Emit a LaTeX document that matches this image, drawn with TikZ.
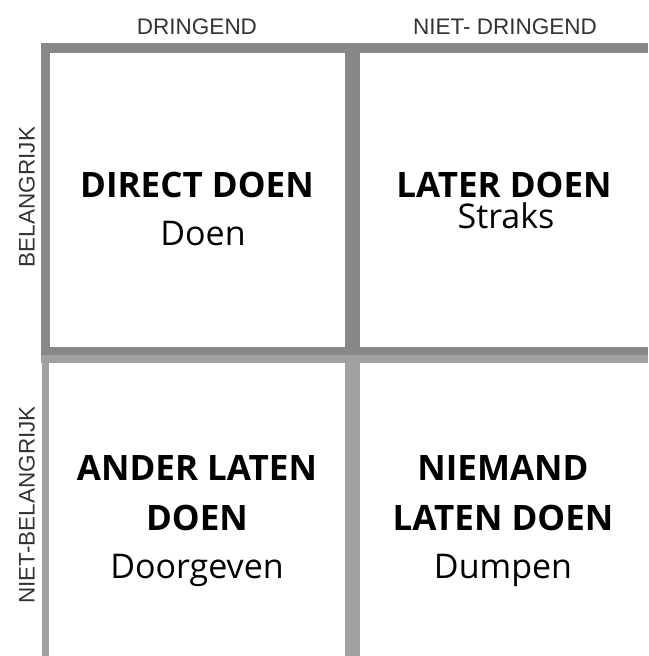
\documentclass[tikz,border=0pt]{standalone}
\usepackage{fontspec}
\setmainfont{Open Sans}
\newfontfamily\axisfont{Liberation Sans}
\definecolor{bardark}{HTML}{888888}
\definecolor{barlight}{HTML}{A0A0A0}
\definecolor{axisgray}{HTML}{333333}
\begin{document}
\begin{tikzpicture}[x=1pt,y=-1pt,
  axislabel/.style={font=\axisfont\fontsize{22.5}{26}\selectfont, text=axisgray, inner sep=0pt},
  titletext/.style={font=\bfseries\fontsize{35}{42}\selectfont, anchor=base, inner sep=0pt, text depth=0pt},
  subtext/.style={font=\fontsize{34}{40}\selectfont, anchor=base, inner sep=0pt}]
\useasboundingbox (0,0) rectangle (648,656);
\fill[white] (0,0) rectangle (648,656);
% upper (dark) frame
\fill[bardark] (41,43) rectangle (648,53);
\fill[bardark] (41,43) rectangle (50,355);
\fill[bardark] (345,43) rectangle (360,355);
\fill[bardark] (41,347) rectangle (648,355);
% lower (light) frame
\fill[barlight] (41,355) rectangle (648,363);
\fill[barlight] (42,355) rectangle (49,656);
\fill[barlight] (345,355) rectangle (360,656);
% axis labels
\node[axislabel] (dr) at (197,27) {DRINGEND};
\node[axislabel] (ndr) at (505,27) {NIET- DRINGEND};
\node[axislabel, rotate=90] (bel) at (27,197) {BELANGRIJK};
\node[axislabel, rotate=90] (nbel) at (27,505) {NIET-BELANGRIJK};
% quadrant 1
\node[titletext] (q1a) at (197,197) {DIRECT DOEN};
\node[subtext] (q1b) at (203,245) {Doen};
% quadrant 2
\node[titletext] (q2a) at (504,197) {LATER DOEN};
\node[subtext] (q2b) at (506,228) {Straks};
% quadrant 3
\node[titletext] (q3a) at (197,480) {ANDER LATEN};
\node[titletext] (q3b) at (197,530) {DOEN};
\node[subtext] (q3c) at (197,578) {Doorgeven};
% quadrant 4
\node[titletext] (q4a) at (503,480) {NIEMAND};
\node[titletext] (q4b) at (503,530) {LATEN DOEN};
\node[subtext] (q4c) at (503,578) {Dumpen};
\end{tikzpicture}
\end{document}
